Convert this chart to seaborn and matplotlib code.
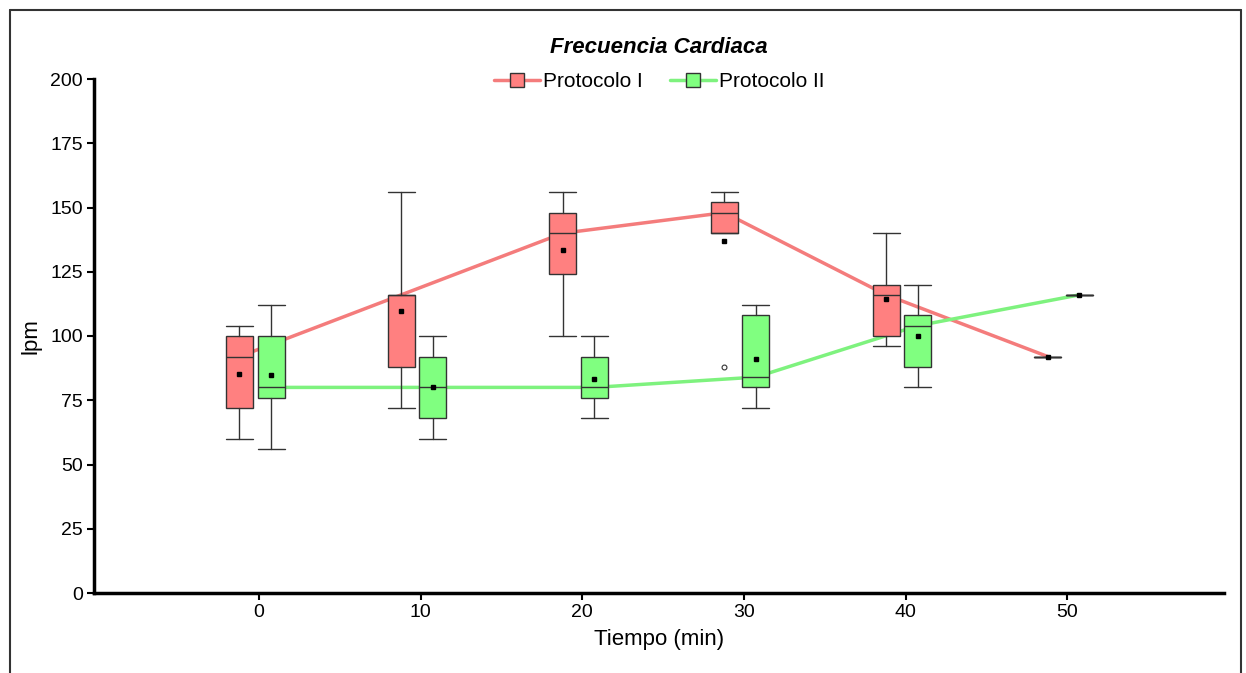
import matplotlib
matplotlib.use("Agg")
import matplotlib.pyplot as plt
from matplotlib.lines import Line2D
import seaborn as sns
import pandas as pd
import numpy as np

sns.set_theme(style="white")
plt.rcParams['font.family'] = ['Liberation Sans', 'DejaVu Sans']
plt.rcParams['text.color'] = 'black'
plt.rcParams['axes.labelcolor'] = 'black'
plt.rcParams['xtick.color'] = 'black'
plt.rcParams['ytick.color'] = 'black'

# ---- data ----
times = [0, 10, 20, 30, 40, 50]
series = ["Protocolo I", "Protocolo II"]

# Protocolo I box statistics
p1_whislo = [60, 72, 100, 140, 96, 92]
p1_q1     = [72, 88, 124, 140, 100, 92]
p1_med    = [92, 116, 140, 148, 116, 92]
p1_q3     = [100, 116, 148, 152, 120, 92]
p1_whishi = [104, 156, 156, 156, 140, 92]
p1_mean   = [85.3, 109.6, 133.5, 137, 114.5, 92]
p1_fliers = [[], [], [], [88], [], []]

# Protocolo II box statistics
p2_whislo = [56, 60, 68, 72, 80, 116]
p2_q1     = [76, 68, 76, 80, 88, 116]
p2_med    = [80, 80, 80, 84, 104, 116]
p2_q3     = [100, 92, 92, 108, 108, 116]
p2_whishi = [112, 100, 100, 112, 120, 116]
p2_mean   = [84.7, 80, 83.3, 91.2, 100, 116]
p2_fliers = [[], [], [], [], [], []]

yticks = [0, 25, 50, 75, 100, 125, 150, 175, 200]
xticks = times

# ---- style ----
fill = {"Protocolo I": "#FF8080", "Protocolo II": "#80FF80"}
linec = {"Protocolo I": "#F47C7C", "Protocolo II": "#7EF27E"}
offset = {"Protocolo I": -1.2, "Protocolo II": 0.75}
bw = 1.67

fig = plt.figure(figsize=(12.46, 6.73), dpi=100)
ax = fig.add_axes([94/1246, 1-593/673, (1224-94)/1246, (593-79)/673])

# median lines via seaborn
rows = []
for s, med in zip(series, [p1_med, p2_med]):
    for t, m in zip(times, med):
        rows.append({"t": t + offset[s], "v": m, "Protocolo": s})
df = pd.DataFrame(rows)
sns.lineplot(data=df, x="t", y="v", hue="Protocolo", palette=linec, linewidth=2.5,
             legend=False, ax=ax, zorder=1, sort=False)

def stats(wl, q1, md, q3, wh, mn, fl):
    return [dict(whislo=a, q1=b, med=c, q3=d, whishi=e, mean=f, fliers=g)
            for a, b, c, d, e, f, g in zip(wl, q1, md, q3, wh, mn, fl)]

allstats = {
    "Protocolo I": stats(p1_whislo, p1_q1, p1_med, p1_q3, p1_whishi, p1_mean, p1_fliers),
    "Protocolo II": stats(p2_whislo, p2_q1, p2_med, p2_q3, p2_whishi, p2_mean, p2_fliers),
}
for s in series:
    ax.bxp(allstats[s], positions=[t + offset[s] for t in times], widths=bw,
           capwidths=bw, patch_artist=True, showmeans=True, manage_ticks=False,
           boxprops=dict(facecolor=fill[s], edgecolor="#333333", linewidth=1.0),
           medianprops=dict(color="#333333", linewidth=1.0),
           whiskerprops=dict(color="#333333", linewidth=1.0),
           capprops=dict(color="#333333", linewidth=1.0),
           meanprops=dict(marker="s", markerfacecolor="black", markeredgecolor="black",
                          markersize=2.2),
           flierprops=dict(marker="o", markerfacecolor="white", markeredgecolor="#333333",
                           markersize=3.5, markeredgewidth=0.8),
           zorder=3)

ax.set_xlim(-10.2, 59.7)
ax.set_ylim(0, 200)
ax.set_xticks(xticks)
ax.set_yticks(yticks)
ax.set_xticklabels([str(t) for t in xticks], fontsize=14)
ax.set_yticklabels([str(y) for y in yticks], fontsize=14)
for sp in ["top", "right"]:
    ax.spines[sp].set_visible(False)
for sp in ["left", "bottom"]:
    ax.spines[sp].set_color("black")
    ax.spines[sp].set_linewidth(2.5)
ax.tick_params(axis="both", direction="out", length=5, width=1.5, color="black",
               left=True, bottom=True, pad=3)
ax.set_xlabel("Tiempo (min)", fontsize=16, labelpad=6)
ax.set_ylabel("lpm", fontsize=16, labelpad=6)
ax.set_title("Frecuencia Cardiaca", fontsize=16, fontweight="bold", fontstyle="italic",
             pad=19)

handles = [Line2D([0], [0], color=linec[s], linewidth=2.5, marker="s", markersize=10,
                  markerfacecolor=fill[s], markeredgecolor="#333333") for s in series]
ax.legend(handles, series, loc="center", bbox_to_anchor=(0.5, 0.995), ncol=2,
          frameon=False, fontsize=15, handlelength=2.2, handletextpad=0.15,
          columnspacing=1.3)

# outer frame
for xs, ys in [([10/1246, 10/1246], [0, 1-10/673]),
               ([10/1246, 1241/1246], [1-10/673, 1-10/673]),
               ([1241/1246, 1241/1246], [0, 1-10/673])]:
    fig.add_artist(Line2D(xs, ys, color="#333333", linewidth=1.5, transform=fig.transFigure))

fig.savefig("out.png", dpi=100)
